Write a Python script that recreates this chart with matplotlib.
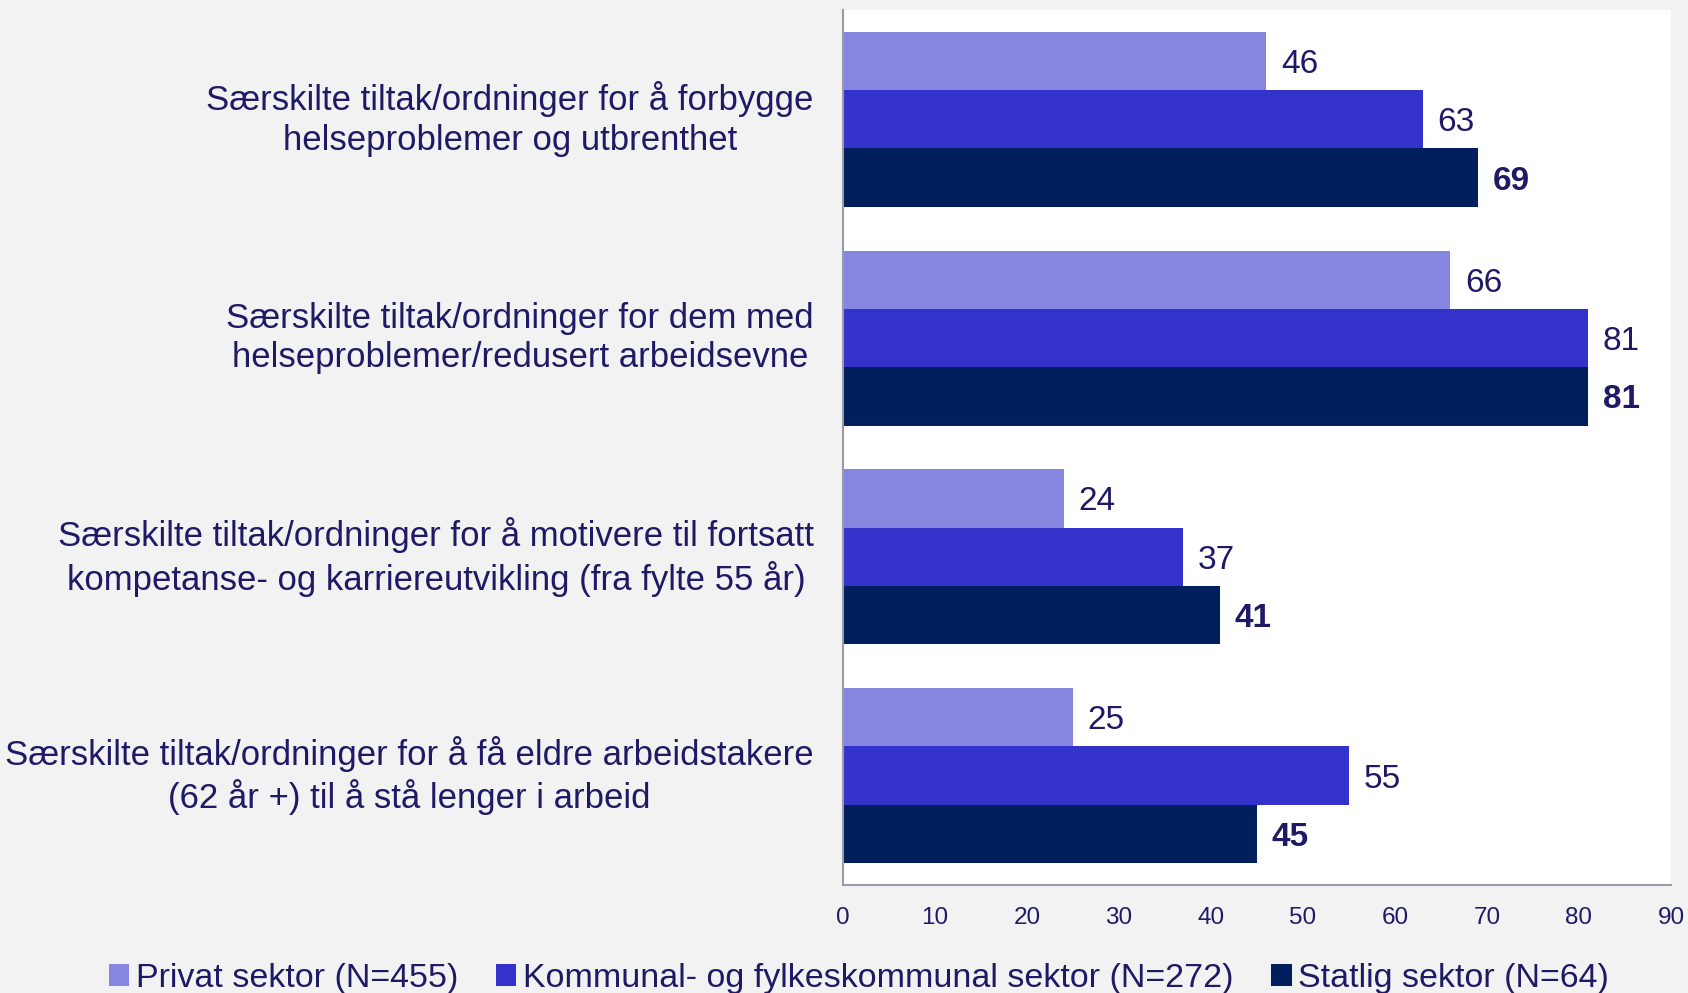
import numpy as np
import matplotlib.pyplot as plt
from matplotlib.transforms import ScaledTranslation

plt.rcParams['font.family'] = ['Liberation Sans', 'DejaVu Sans']

categories = [
    "Særskilte tiltak/ordninger for å forbygge\nhelseproblemer og utbrenthet",
    "Særskilte tiltak/ordninger for dem med\nhelseproblemer/redusert arbeidsevne",
    "Særskilte tiltak/ordninger for å motivere til fortsatt\nkompetanse- og karriereutvikling (fra fylte 55 år)",
    "Særskilte tiltak/ordninger for å få eldre arbeidstakere\n(62 år +) til å stå lenger i arbeid",
]
series_names = [
    "Privat sektor (N=455)",
    "Kommunal- og fylkeskommunal sektor (N=272)",
    "Statlig sektor (N=64)",
]
privat = [46, 66, 24, 25]
kommunal = [63, 81, 37, 55]
statlig = [69, 81, 41, 45]
ticks = [0, 10, 20, 30, 40, 50, 60, 70, 80, 90]

colors = ['#8686E0', '#3333CC', '#001F5C']
text_color = '#1F1A66'

fig = plt.figure(figsize=(16.88, 9.93), dpi=100, facecolor='#F2F2F2')
ax = fig.add_axes([0.4994, 0.1088, 0.4905, 0.8812])
ax.set_facecolor('white')

y = np.arange(len(categories))
h = 0.8 / 3
for i, (vals, col, name) in enumerate(zip([privat, kommunal, statlig], colors, series_names)):
    pos = y - h + i * h
    bars = ax.barh(pos, vals, height=h, color=col, label=name)
    for b, v in zip(bars, vals):
        ax.text(v + 1.6, b.get_y() + b.get_height() / 2, str(v),
                va='center_baseline', ha='left', fontsize=24, color=text_color,
                fontweight='bold' if i == 2 else 'normal')

ax.set_ylim(len(categories) - 0.5, -0.5)
ax.set_xlim(0, 90)
ax.set_xticks(ticks)
ax.set_yticks(y)
ax.set_yticklabels(categories, fontsize=25, color=text_color, multialignment='center')
ax.tick_params(axis='y', length=0, pad=21)
ax.tick_params(axis='x', length=0, pad=16, labelsize=17.5, labelcolor=text_color)

# nudge the category labels up a little
shift = ScaledTranslation(0, 5 / 72, fig.dpi_scale_trans)
for lab in ax.get_yticklabels():
    lab.set_linespacing(1.25)
    lab.set_transform(lab.get_transform() + shift)

for s in ['top', 'right']:
    ax.spines[s].set_visible(False)
for s in ['left', 'bottom']:
    ax.spines[s].set_color('#9A9AA8')
    ax.spines[s].set_linewidth(1.5)

fig.legend(loc='lower center', ncol=3, frameon=False, fontsize=24.5,
           labelcolor=text_color, handlelength=0.6, handleheight=0.6,
           handletextpad=0.2, columnspacing=1.1,
           bbox_to_anchor=(0.509, -0.032))

fig.savefig('out.png', dpi=100, facecolor=fig.get_facecolor())
